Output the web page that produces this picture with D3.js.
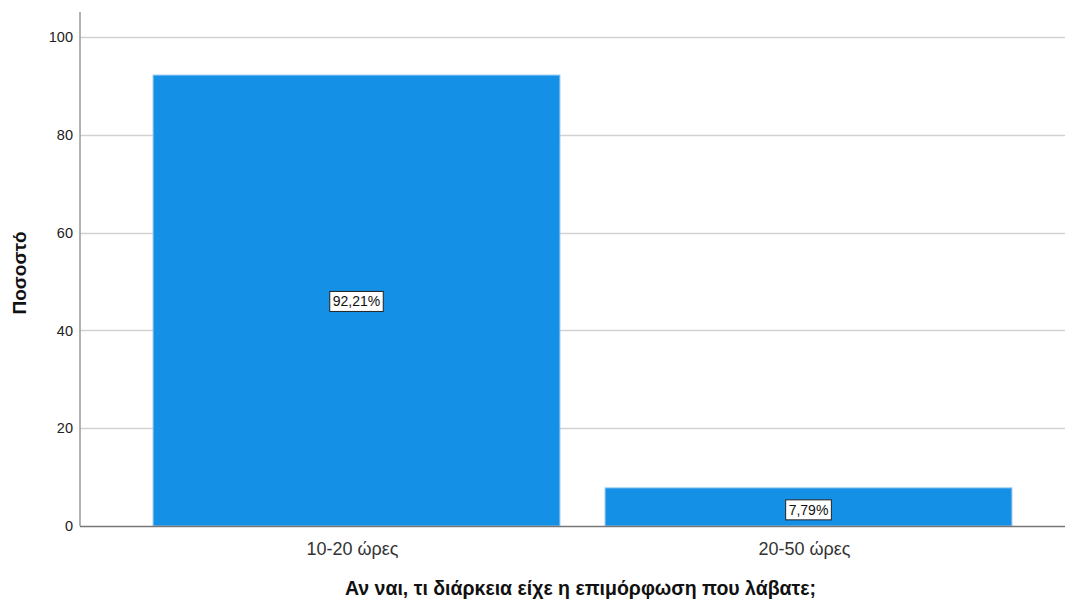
<!DOCTYPE html>
<html>
<head>
<meta charset="utf-8">
<script src="https://cdn.jsdelivr.net/npm/d3@7"></script>
<style>
  html, body { margin: 0; padding: 0; background: #fff; }
  svg { display: block; font-family: Arial, "Liberation Sans", sans-serif; }
</style>
</head>
<body>
<svg id="chart" width="1075" height="602"></svg>
<script>
// Percent of respondents by training duration
const categories = ["10-20 ώρες", "20-50 ώρες"];
const percents = [92.21, 7.79];
const yTicks = [0, 20, 40, 60, 80, 100];
const xTitle = "Αν ναι, τι διάρκεια είχε η επιμόρφωση που λάβατε;";
const yTitle = "Ποσοστό";

const svg = d3.select("#chart");
const plotLeft = 80, plotRight = 1065, plotTop = 12, plotBottom = 526;

const y = d3.scaleLinear().domain([0, 105]).range([plotBottom, plotBottom - 105 * 4.89]);
const x = d3.scaleBand().domain(categories).range([130.5, 1034.5])
  .paddingInner(0.1).paddingOuter(0.05);

// horizontal grid lines
svg.append("g").selectAll("line").data(yTicks.filter(d => d > 0)).join("line")
  .attr("x1", plotLeft).attr("x2", plotRight)
  .attr("y1", d => Math.round(y(d)) + 0.5).attr("y2", d => Math.round(y(d)) + 0.5)
  .attr("stroke", "#d2d2d2").attr("stroke-width", 1.5);

// bars
svg.append("g").selectAll("rect").data(percents).join("rect")
  .attr("x", (d, i) => x(categories[i]))
  .attr("width", x.bandwidth())
  .attr("y", d => y(d))
  .attr("height", d => plotBottom - y(d))
  .attr("fill", "#1490e6")
  .attr("stroke", "#8cc4ef").attr("stroke-width", 1);

// y axis
const yAxis = svg.append("g").attr("transform", `translate(${plotLeft},0)`)
  .call(d3.axisLeft(y).tickValues(yTicks).tickSize(0).tickPadding(7));
yAxis.select(".domain").remove();
yAxis.selectAll("text").attr("font-size", 14.5).attr("fill", "#222")
  .attr("font-family", "Arial, 'Liberation Sans', sans-serif");
svg.append("line").attr("x1", plotLeft).attr("x2", plotLeft).attr("y1", plotTop).attr("y2", plotBottom)
  .attr("stroke", "#999").attr("stroke-width", 1.5);

// x axis
const xAxis = svg.append("g").attr("transform", `translate(0,${plotBottom})`)
  .call(d3.axisBottom(x).tickSize(0).tickPadding(16));
xAxis.select(".domain").remove();
xAxis.selectAll("text").attr("font-size", 18).attr("fill", "#333")
  .attr("font-family", "Arial, 'Liberation Sans', sans-serif")
  .attr("dx", -4);
svg.append("line").attr("x1", plotLeft).attr("x2", plotRight).attr("y1", plotBottom + 0.5).attr("y2", plotBottom + 0.5)
  .attr("stroke", "#777").attr("stroke-width", 1.5);

// value labels in boxes
const labels = svg.append("g").selectAll("g").data(percents).join("g")
  .attr("transform", (d, i) => {
    const cx = x(categories[i]) + x.bandwidth() / 2;
    const cy = d > 20 ? y(d / 2) + 1 : y(d / 2) + 3;
    return `translate(${cx},${cy})`;
  });
labels.append("text")
  .attr("text-anchor", "middle").attr("dy", "0.35em")
  .attr("font-size", 14).attr("fill", "#111")
  .text(d => d.toFixed(2).replace(".", ",") + "%");
labels.each(function () {
  const g = d3.select(this);
  const b = g.select("text").node().getBBox();
  g.insert("rect", "text")
    .attr("x", b.x - 3).attr("y", b.y - 2)
    .attr("width", b.width + 6).attr("height", b.height + 4)
    .attr("fill", "#fff").attr("stroke", "#222").attr("stroke-width", 1);
});

// axis titles
svg.append("text")
  .attr("x", (plotLeft + plotRight) / 2 + 8).attr("y", 595)
  .attr("text-anchor", "middle").attr("font-size", 19.5).attr("font-weight", "bold")
  .attr("fill", "#111").text(xTitle);
svg.append("text")
  .attr("transform", `translate(26,${(plotTop + plotBottom) / 2 + 4}) rotate(-90)`)
  .attr("text-anchor", "middle").attr("font-size", 19).attr("font-weight", "bold")
  .attr("fill", "#111").text(yTitle);
</script>
</body>
</html>
